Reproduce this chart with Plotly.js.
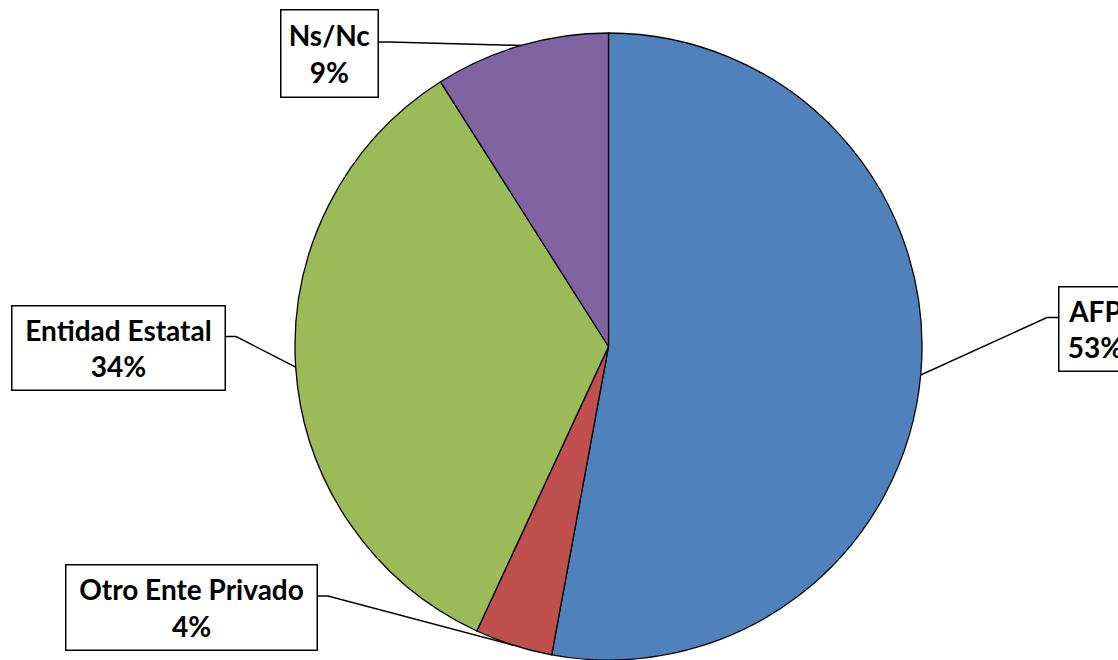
<!DOCTYPE html>
<html><head><meta charset="utf-8">
<script src="https://cdn.plot.ly/plotly-3.0.1.min.js"></script>
<style>html,body{margin:0;padding:0;background:#fff}#chart{width:1118px;height:660px}</style>
</head><body><div id="chart"></div>
<script>
// Data
const categories = ["AFP", "Otro Ente Privado", "Entidad Estatal", "Ns/Nc"];
const values = [52.9, 4.0, 34.1, 9.0];
const colors = ["#4F81BD", "#C0504D", "#9BBB59", "#8064A2"];

const W = 1118, H = 660;
const cx = 608.5, cy = 346.5, R = 313.5;
const total = values.reduce((a, b) => a + b, 0);

// label box layout (pixels): center x, center y, width, height, stub side
const boxes = [
  {x: 1095, y: 328.5, w: 74, h: 85, side: -1},
  {x: 191, y: 607, w: 252, h: 86, side: 1},
  {x: 118, y: 347.5, w: 214, h: 85, side: 1},
  {x: 329, y: 53, w: 98, h: 88, side: 1}
];

const px = x => x / W, py = y => 1 - y / H;
const annotations = [], shapes = [];
let cum = 0;
values.forEach((v, i) => {
  const mid = (cum + v / 2) / total * 2 * Math.PI;
  cum += v;
  const ex = cx + R * Math.sin(mid), ey = cy - R * Math.cos(mid);
  const b = boxes[i];
  const pct = Math.round(v / total * 100);
  annotations.push({
    xref: 'paper', yref: 'paper', x: px(b.x), y: py(b.y), xanchor: 'center', yanchor: 'middle',
    text: '<b>' + categories[i] + '<br>' + pct + '%</b>', showarrow: false,
    font: {family: 'Lato, "Open Sans", sans-serif', size: 28, color: '#000'},
    width: b.w - 2, height: b.h - 2, borderpad: 0, bordercolor: '#000', borderwidth: 1.5, bgcolor: '#fff', align: 'center'
  });
  const ax = b.side > 0 ? b.x + b.w / 2 : b.x - b.w / 2;
  const ay = b.y - 11;
  const sx = ax + b.side * 11;
  const path = 'M' + px(ax) + ',' + py(ay) + ' L' + px(sx) + ',' + py(ay) + ' L' + px(ex) + ',' + py(ey);
  shapes.push({type: 'path', xref: 'paper', yref: 'paper', path: path, line: {color: '#000', width: 1.5}, layer: 'above'});
});

const trace = {
  type: 'pie', labels: categories, values: values, sort: false, direction: 'clockwise', rotation: 0,
  marker: {colors: colors, line: {color: '#000', width: 1.3}},
  textinfo: 'none', hoverinfo: 'label+percent', showlegend: false,
  domain: {x: [(cx - R) / W, (cx + R) / W], y: [0, 1 - 33 / H]}
};

Plotly.newPlot('chart', [trace], {
  width: W, height: H, margin: {l: 0, r: 0, t: 0, b: 0},
  paper_bgcolor: '#fff', plot_bgcolor: '#fff', showlegend: false,
  annotations: annotations, shapes: shapes
}, {displayModeBar: false, staticPlot: true});
</script></body></html>
